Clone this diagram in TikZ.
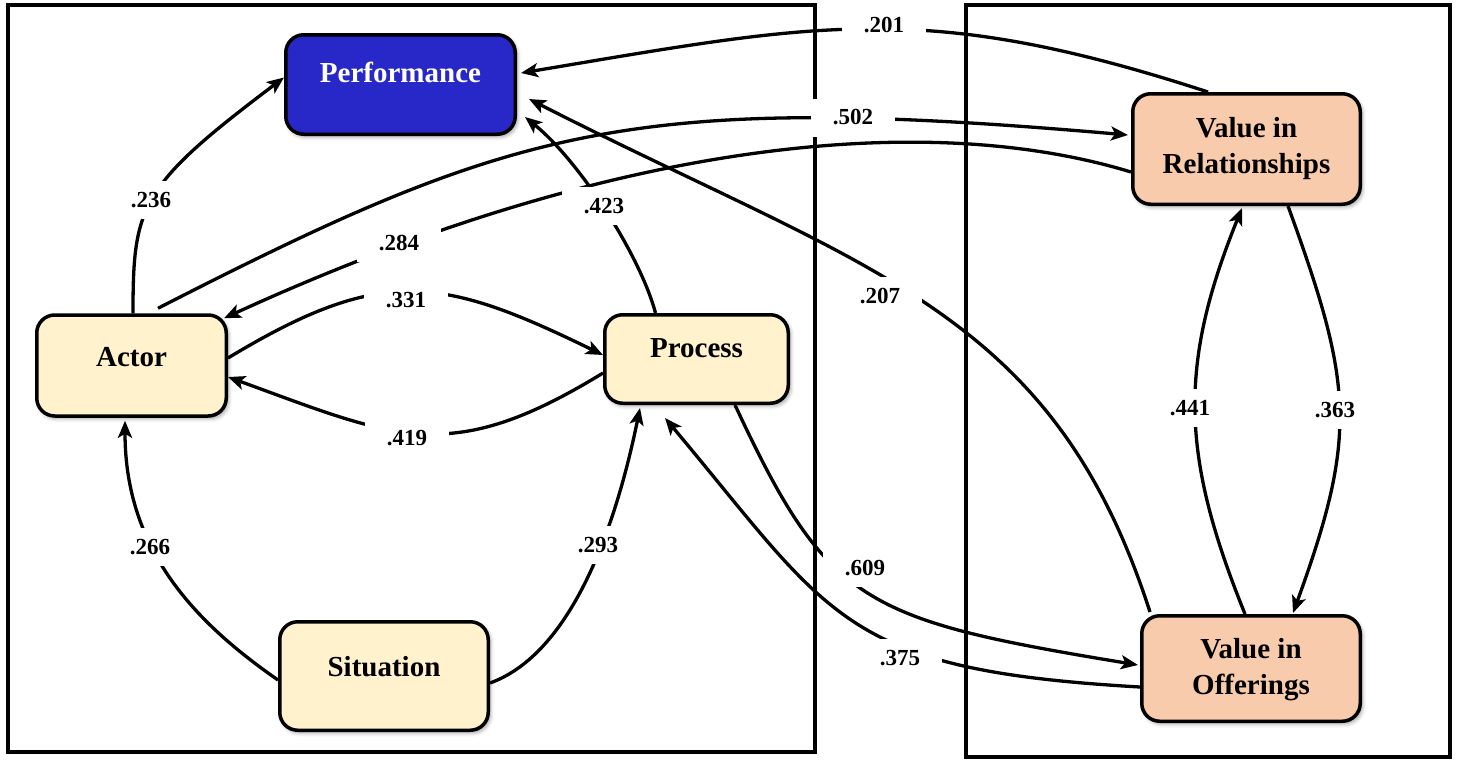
\documentclass[tikz,border=0pt]{standalone}
\usepackage{fontspec}
\setmainfont{Liberation Serif}
\usetikzlibrary{arrows.meta,shadows.blur}

\definecolor{perfblue}{RGB}{40,40,200}
\definecolor{cream}{RGB}{255,242,204}
\definecolor{salmon}{RGB}{247,203,172}

\begin{document}
\begin{tikzpicture}[x=1pt,y=1pt,
  frame/.style={draw=black, line width=3.2pt},
  box/.style={draw=black, line width=3.5pt, rounded corners=18pt, inner sep=0pt,
    blur shadow={shadow xshift=2pt, shadow yshift=-2.5pt, shadow blur radius=4pt, shadow opacity=40}},
  boxtext/.style={font=\fontsize{29}{36}\selectfont\bfseries, align=center, inner sep=0pt},
  link/.style={draw=black, line width=3.3pt, -{Stealth[length=17pt,width=14pt,inset=4pt]}},
  lab/.style={fill=white, minimum width=84pt, minimum height=38pt, inner sep=0pt,
    font=\fontsize{23}{23}\selectfont\bfseries}
]
\useasboundingbox (0,0) rectangle (1460,-761);

% the two panels
\draw[frame] (8,-5) rectangle (815,-752);
\draw[frame] (966,-5) rectangle (1450,-757);

% constructs
\node[box, fill=perfblue, minimum width=229.5pt, minimum height=99.5pt] (perf) at (400.5,-84.5) {};
\node[box, fill=cream, minimum width=189.5pt, minimum height=101pt] (actor) at (131.5,-365.5) {};
\node[box, fill=cream, minimum width=183.5pt, minimum height=88.5pt] (proc) at (696.5,-359) {};
\node[box, fill=cream, minimum width=208.5pt, minimum height=108.5pt] (sit) at (384,-676) {};
\node[box, fill=salmon, minimum width=227.5pt, minimum height=110.5pt] (vr) at (1246.5,-149) {};
\node[box, fill=salmon, minimum width=218.5pt, minimum height=105.5pt] (vo) at (1251,-668.5) {};

\node[boxtext, text=white] (perf-t) at ([yshift=12pt]perf.center) {Performance};
\node[boxtext] (actor-t) at ([yshift=8.5pt]actor.center) {Actor};
\node[boxtext] (proc-t) at ([yshift=11pt]proc.center) {Process};
\node[boxtext] (sit-t) at ([yshift=9pt]sit.center) {Situation};
\node[boxtext] (vr-t) at (vr.center) {Value in\\Relationships};
\node[boxtext] (vo-t) at ([yshift=-1pt]vo.center) {Value in\\Offerings};

% paths
\draw[link] ([xshift=1.5pt]actor.north) .. controls +(0,108) and +(-144,-108.5) .. ([yshift=7pt]perf.west);
\draw[link] ([xshift=-41pt]proc.north) .. controls +(-15.5,58) and +(54.4,-44) .. ([xshift=8pt,yshift=-32.5pt]perf.east);
\draw[link] ([xshift=-38.5pt]vr.north) .. controls +(-285,93) and +(296,49.5) .. ([xshift=4pt,yshift=11.5pt]perf.east);
\draw[link] ([xshift=10pt,yshift=2pt]vo.north west) .. controls +(-98,304) and +(338.6,-172.5) .. ([xshift=12pt,yshift=-14.5pt]perf.east);
\draw[link] ([xshift=26.5pt,yshift=5pt]actor.north) .. controls +(356,182) and +(-498,43.5) .. ([xshift=-3pt,yshift=14pt]vr.west);
\draw[link] ([yshift=-23pt]vr.west) .. controls +(-210,64) and +(382,175) .. ([xshift=-4pt,yshift=-5pt]actor.north east);
\draw[link] ([yshift=7.5pt]actor.east) .. controls +(154,93) and +(-162,79) .. ([yshift=4pt]proc.west);
\draw[link] ([yshift=-14pt]proc.west) .. controls +(-153.5,-94) and +(169,-61.5) .. ([yshift=-11.5pt]actor.east);
\draw[link] ([yshift=-4pt]sit.west) .. controls +(-82,57) and +(0,-130) .. ([xshift=-6.5pt,yshift=-3pt]actor.south);
\draw[link] ([yshift=-7pt]sit.east) .. controls +(75,27) and +(-28,-137) .. ([xshift=-56.5pt,yshift=-3pt]proc.south);
\draw[link] ([xshift=38.5pt]proc.south) .. controls +(93,-199) and +(-276,45.6) .. ([xshift=-2pt,yshift=3.5pt]vo.west);
\draw[link] ([yshift=-18.5pt]vo.west) .. controls +(-299,17) and +(167,-199) .. ([xshift=-31.5pt,yshift=-13pt]proc.south);
\draw[link] ([xshift=-6pt]vo.north) .. controls +(-64,158) and +(-64,-158) .. ([xshift=-4.5pt,yshift=-2pt]vr.south);
\draw[link] ([xshift=41.5pt]vr.south) .. controls +(65,-178.6) and +(65,178.6) .. ([xshift=42pt,yshift=1pt]vo.north);

% coefficients
\node[lab] (l201) at (884,-25) {.201};
\node[lab] (l502) at (853,-117.5) {.502};
\node[lab] (l236) at (151,-200) {.236};
\node[lab] (l423) at (604,-206) {.423};
\node[lab] (l284) at (399,-243) {.284};
\node[lab] (l207) at (880,-296) {.207};
\node[lab] (l331) at (406,-300) {.331};
\node[lab] (l419) at (407,-438) {.419};
\node[lab] (l441) at (1190,-408) {.441};
\node[lab] (l363) at (1335,-410) {.363};
\node[lab] (l266) at (150,-547) {.266};
\node[lab] (l293) at (598,-545) {.293};
\node[lab] (l609) at (865,-568) {.609};
\node[lab] (l375) at (900,-658) {.375};
\end{tikzpicture}
\end{document}
